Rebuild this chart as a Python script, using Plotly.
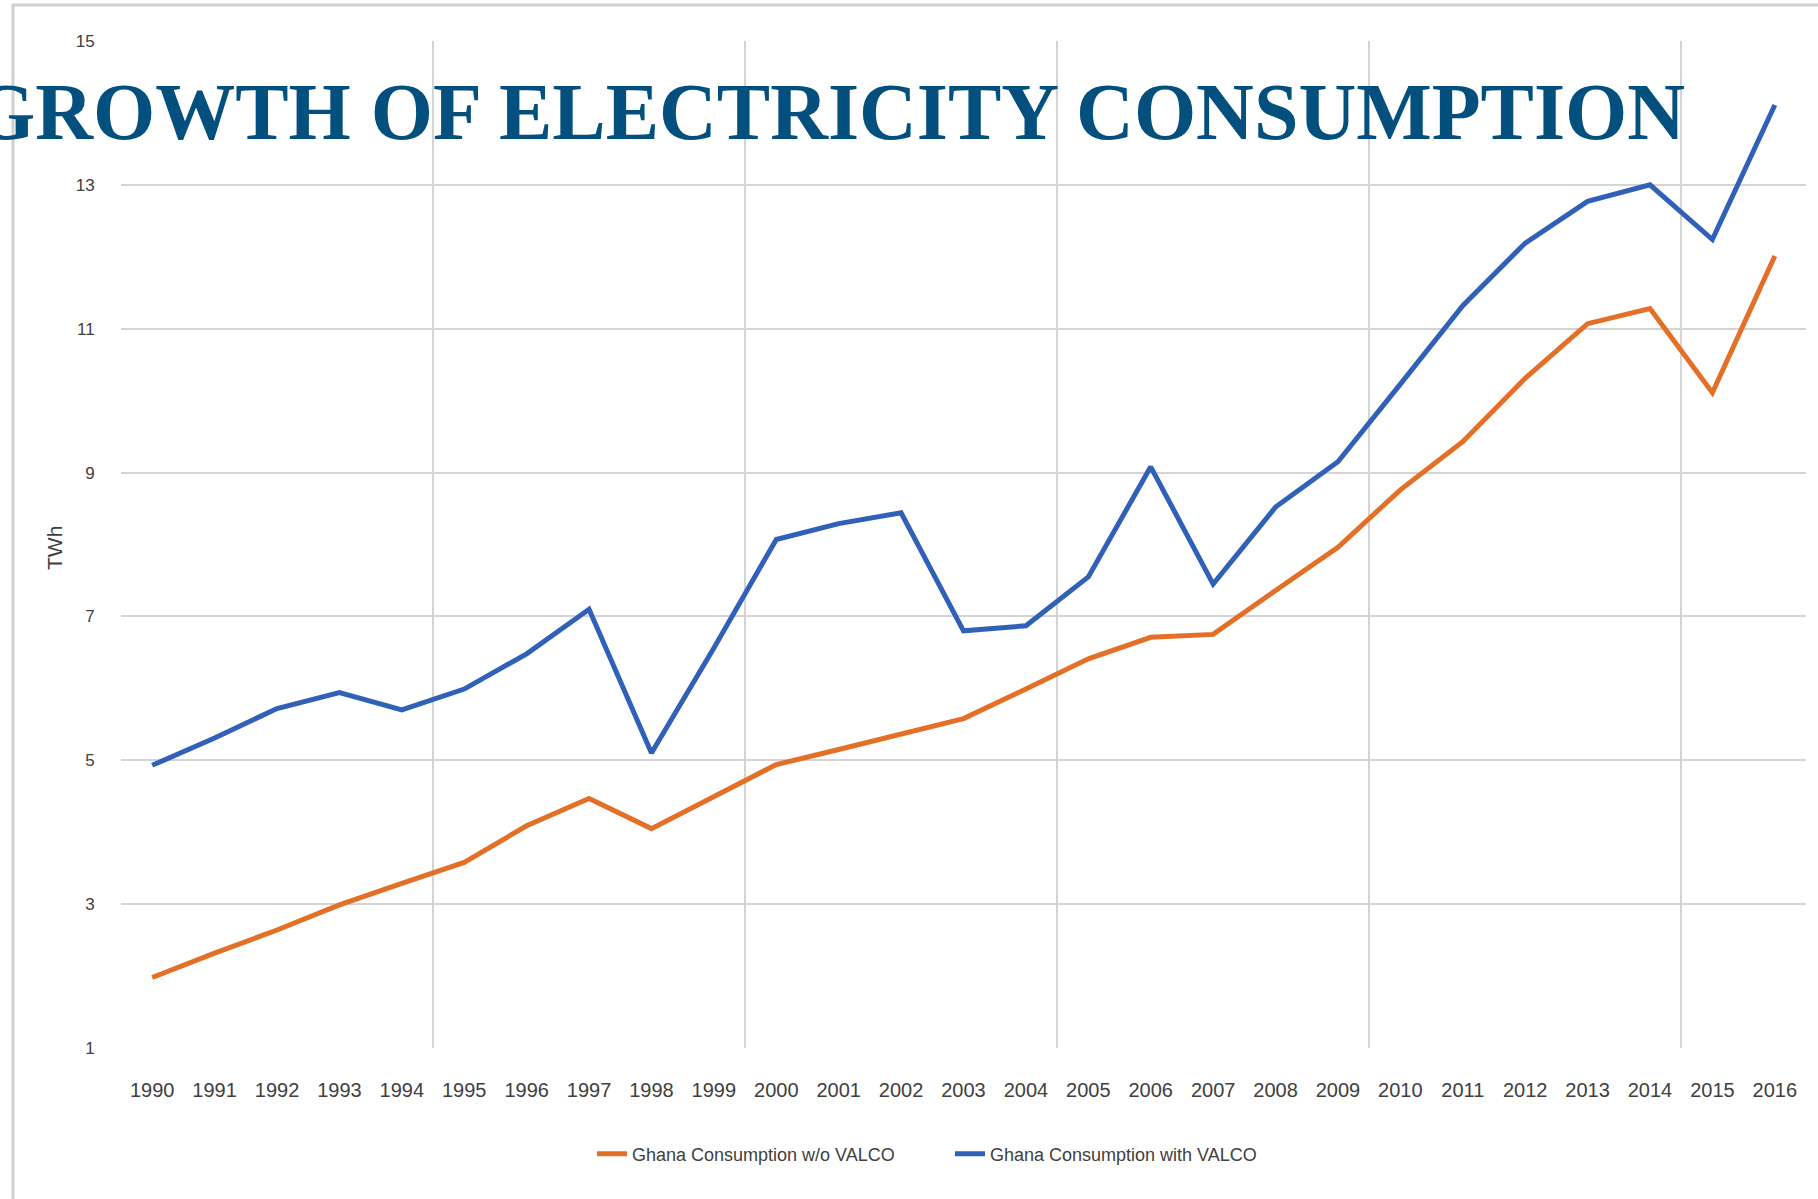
import plotly.graph_objects as go

years = list(range(1990, 2017))
without_valco = [1.98, 2.32, 2.64, 2.99, 3.29, 3.58, 4.09, 4.47, 4.05, 4.50, 4.94, 5.15, 5.36, 5.58, 5.99,
                 6.41, 6.71, 6.75, 7.36, 7.96, 8.76, 9.43, 10.31, 11.07, 11.28, 10.11, 12.01]
with_valco = [4.93, 5.31, 5.72, 5.94, 5.70, 5.99, 6.48, 7.10, 5.10, 6.56, 8.07, 8.29, 8.44, 6.80, 6.87,
              7.55, 9.08, 7.45, 8.52, 9.15, 10.23, 11.32, 12.19, 12.77, 13.00, 12.24, 14.11]
series_names = ["Ghana Consumption w/o VALCO", "Ghana Consumption with VALCO"]
y_ticks = [1, 3, 5, 7, 9, 11, 13, 15]
title_text = "GROWTH OF ELECTRICITY CONSUMPTION"

W, H = 1818, 1199
L, R, T, B = 121, 12, 41, 151
plot_w = W - L - R
plot_h = H - T - B

sans = "Liberation Sans, Arial, sans-serif"

fig = go.Figure()
fig.add_trace(go.Scatter(x=years, y=without_valco, mode="lines", name=series_names[0],
                         line=dict(color="#e37026", width=5)))
fig.add_trace(go.Scatter(x=years, y=with_valco, mode="lines", name=series_names[1],
                         line=dict(color="#3060b8", width=5)))

grid_bounds = [y - 0.5 for y in years[::5]]

fig.update_layout(
    width=W, height=H,
    margin=dict(l=L, r=R, t=T, b=B),
    paper_bgcolor="white", plot_bgcolor="white",
    title=dict(text=title_text, xref="container", yref="container",
               x=829 / W, xanchor="center", y=1 - 111 / H, yanchor="middle",
               font=dict(family="Liberation Serif, Times New Roman, serif", size=80,
                         color="#03507f", weight="bold")),
    xaxis=dict(range=[years[0] - 0.5, years[-1] + 0.5], tickmode="array", tickvals=years,
               ticktext=[str(y) for y in years], showgrid=False, zeroline=False,
               ticks="outside", ticklen=24, tickcolor="rgba(0,0,0,0)",
               tickfont=dict(family=sans, size=20, color="#404040"),
               minor=dict(tickvals=grid_bounds, showgrid=True, gridcolor="#d4d4d4", gridwidth=2,
                          ticks=""),
               showline=False),
    yaxis=dict(range=[y_ticks[0], y_ticks[-1]], tickmode="array", tickvals=y_ticks,
               showgrid=True, gridcolor="#d4d4d4", gridwidth=2, zeroline=False,
               ticks="outside", ticklen=22, tickcolor="rgba(0,0,0,0)",
               tickfont=dict(family=sans, size=17, color="#404040")),
    legend=dict(orientation="h", xref="container", yref="container", x=592 / W, xanchor="left",
                y=1 - 1154 / H, yanchor="middle",
                font=dict(family=sans, size=18, color="#404040"),
                itemwidth=30, tracegroupgap=0, entrywidth=313, entrywidthmode="pixels"),
    showlegend=True,
)

fig.add_annotation(text="TWh", xref="paper", yref="paper", x=(54 - L) / plot_w, y=(H - B - 548) / plot_h,
                   textangle=-90, showarrow=False, xanchor="center", yanchor="middle",
                   font=dict(family=sans, size=21, color="#404040"))

fig.add_shape(type="rect", xref="paper", yref="paper",
              x0=(13 - L) / plot_w, x1=(W + 20 - L) / plot_w,
              y0=-(B + 20) / plot_h, y1=(H - B - 5) / plot_h,
              line=dict(color="#d0d0d0", width=3), layer="below")

fig.write_html("out.html", config={"displayModeBar": False},
               post_script="document.body.style.margin='0';document.body.style.overflow='hidden';")
